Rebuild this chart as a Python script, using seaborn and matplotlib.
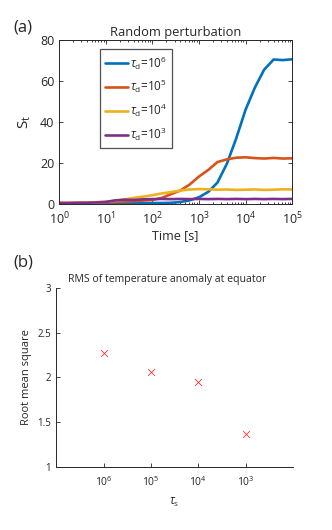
import numpy as np
import pandas as pd
import matplotlib
matplotlib.use('Agg')
import matplotlib.pyplot as plt
import seaborn as sns


# panel (a): S_t against time for four damping times
time_s = [1, 1.6, 2.5, 4, 6.3, 10, 16, 25, 40, 63, 100, 160, 250, 400, 630,
          1000, 1600, 2500, 4000, 6300, 10000, 16000, 25000, 40000, 63000, 100000]
st_1e6 = [0.2, 0.2, 0.2, 0.3, 0.3, 0.3, 0.3, 0.4, 0.4, 0.4, 0.5, 0.5, 0.6, 1.0, 1.8,
          3.3, 6.0, 10.5, 19.8, 32.0, 46.0, 57.0, 65.5, 70.5, 70.2, 70.6]
st_1e5 = [0.5, 0.5, 0.6, 0.7, 0.8, 0.9, 1.0, 1.2, 1.4, 1.7, 2.0, 3.0, 4.8, 6.6, 9.5,
          13.4, 16.7, 20.5, 21.8, 22.6, 22.8, 22.4, 22.2, 22.5, 22.2, 22.3]
st_1e4 = [0.5, 0.5, 0.6, 0.7, 0.9, 1.1, 1.6, 2.2, 3.0, 3.6, 4.3, 5.2, 5.8, 6.6, 7.1,
          7.3, 7.2, 7.0, 7.1, 6.9, 7.0, 7.1, 6.9, 7.0, 7.2, 7.1]
st_1e3 = [0.5, 0.5, 0.6, 0.6, 0.8, 1.0, 1.8, 2.1, 2.0, 2.3, 2.4, 2.5, 2.4, 2.5, 2.4,
          2.5, 2.4, 2.5, 2.4, 2.5, 2.4, 2.5, 2.4, 2.5, 2.4, 2.5]
series_labels = [r'$\mathit{\tau}_\mathrm{d}$=10$^{6}$', r'$\mathit{\tau}_\mathrm{d}$=10$^{5}$',
                 r'$\mathit{\tau}_\mathrm{d}$=10$^{4}$', r'$\mathit{\tau}_\mathrm{d}$=10$^{3}$']
line_colors = ['#0072BD', '#D95319', '#EDB120', '#7E2F8E']

# panel (b): RMS of temperature anomaly
tau_labels = ['$10^{6}$', '$10^{5}$', '$10^{4}$', '$10^{3}$']
rms_values = [2.27, 2.06, 1.95, 1.37]

sns.set_style('ticks')
plt.rcParams['font.family'] = ['Open Sans', 'DejaVu Sans']
plt.rcParams['mathtext.fontset'] = 'custom'
plt.rcParams['mathtext.rm'] = 'Open Sans'
plt.rcParams['mathtext.it'] = 'Open Sans:italic'
plt.rcParams['mathtext.default'] = 'regular'
grey = '#262626'
for k in ['text.color', 'axes.labelcolor', 'xtick.color', 'ytick.color', 'axes.edgecolor']:
    plt.rcParams[k] = grey

df = pd.DataFrame({
    'time': time_s * 4,
    'St': st_1e6 + st_1e5 + st_1e4 + st_1e3,
    'run': sum([[lab] * len(time_s) for lab in series_labels], []),
})

fig = plt.figure(figsize=(3.32, 5.30), dpi=100)
ax1 = fig.add_axes([0.178, 0.615, 0.702, 0.3095])
ax2 = fig.add_axes([0.169, 0.119, 0.714, 0.3377])

sns.lineplot(data=df, x='time', y='St', hue='run', hue_order=series_labels,
             palette=line_colors, linewidth=1.9, ax=ax1)
ax1.set_xscale('log')
ax1.set_xlim(1, 1e5)
ax1.set_ylim(0, 80)
ax1.set_yticks([0, 20, 40, 60, 80])
ax1.set_xticks([1, 10, 100, 1000, 1e4, 1e5])
ax1.tick_params(which='both', direction='in', top=True, right=True, labelsize=9, width=0.6)
ax1.tick_params(which='major', length=3)
ax1.tick_params(which='minor', length=1.6)
ax1.tick_params(axis='x', pad=5)
for s in ax1.spines.values():
    s.set_linewidth(0.7)
ax1.set_xlabel('Time [s]', fontsize=9, labelpad=1)
ax1.set_ylabel(r'$\mathrm{S}_{\mathrm{t}}$', fontsize=11, labelpad=5)
ax1.set_title('Random perturbation', fontsize=9.3, pad=3)
leg = ax1.legend(loc='upper left', bbox_to_anchor=(0.176, 0.945), borderaxespad=0,
                 fontsize=8.5, frameon=True, fancybox=False, handlelength=1.9,
                 labelspacing=0.55, handletextpad=0.15, borderpad=0.45)
leg.get_frame().set_edgecolor(grey)
leg.get_frame().set_linewidth(0.9)
fig.text(0.07, 0.949, '(a)', fontsize=12, ha='center', va='center')

sns.scatterplot(x=tau_labels, y=rms_values, color='#FF3030', marker='x', s=24,
                linewidth=0.6, ax=ax2)
ax2.set_xlim(-1, 4)
ax2.set_ylim(1, 3)
ax2.set_yticks([1, 1.5, 2, 2.5, 3])
ax2.set_yticklabels(['1', '1.5', '2', '2.5', '3'])
ax2.tick_params(direction='in', labelsize=7, length=3, width=0.6)
ax2.tick_params(axis='x', pad=6, labelsize=7.5)
sns.despine(ax=ax2)
for s in ax2.spines.values():
    s.set_linewidth(0.7)
ax2.set_xlabel(r'$\mathit{\tau}_{\mathrm{s}}$', fontsize=8.5, labelpad=5)
ax2.set_ylabel('Root mean square', fontsize=8, labelpad=4)
ax2.set_title('RMS of temperature anomaly at equator', fontsize=7.6, x=0.47, pad=4)
fig.text(0.07, 0.504, '(b)', fontsize=12, ha='center', va='center')

fig.savefig('out.png', dpi=100)
